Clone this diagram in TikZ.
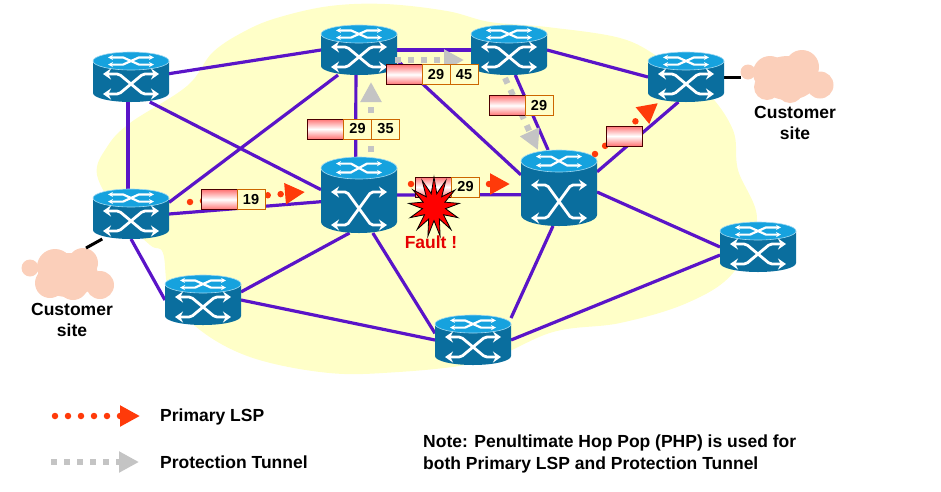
\documentclass[tikz,border=0pt]{standalone}
\usepackage{fontspec}
\setmainfont{Liberation Sans}
\usetikzlibrary{positioning,arrows.meta,shapes.geometric}
\pgfdeclarelayer{background}
\pgfsetlayers{background,main}

\definecolor{blobyellow}{HTML}{FFFFC8}
\definecolor{linkpurple}{HTML}{5A14C8}
\definecolor{routerside}{HTML}{0A6E9E}
\definecolor{routertop}{HTML}{16A2DE}
\definecolor{cloudpink}{HTML}{FBCFBA}
\definecolor{lspred}{HTML}{FF3A0A}
\definecolor{tunnelgrey}{HTML}{C4C4C4}

\tikzset{
  routerbody/.style={minimum width=76pt, inner sep=0pt, outer sep=0pt},
  routerarrow/.style={white, line width=2.8pt, rounded corners=2pt, {Stealth[length=8pt,width=11pt]}-{Stealth[length=8pt,width=11pt]}},
  toparrow/.style={white, line width=2.2pt, {Stealth[length=5pt,width=5pt]}-{Stealth[length=5pt,width=5pt]}},
  link/.style={linkpurple, line width=3.2pt},
  access/.style={black, line width=3pt},
  primary/.style={lspred, line width=6.5pt, line cap=round, dash pattern=on 0pt off 13pt, -{Triangle[length=20pt,width=20pt]}},
  tunnel/.style={tunnelgrey, line width=6pt, dash pattern=on 6pt off 7pt, -{Triangle[length=20pt,width=20pt]}},
  lspbar/.style={draw=black!70!red, line width=1pt, top color=red!55!white, bottom color=red!55!white, middle color=white, minimum width=36pt, minimum height=20pt, inner sep=0pt, outer sep=0pt},
  lspcell/.style={draw=orange!80!black, line width=1pt, fill=blobyellow, minimum width=28pt, minimum height=20pt, inner sep=0pt, outer sep=0pt, font=\fontsize{14.5}{16}\selectfont\bfseries},
  caption/.style={align=center, inner sep=0pt, font=\fontsize{17.5}{21.5}\selectfont\bfseries},
  legend/.style={anchor=west, align=left, inner sep=0pt, font=\fontsize{17.5}{22}\selectfont\bfseries}
}

% name, x, y, height
\newcommand{\router}[4]{
  \node[routerbody, minimum height=#4pt] (#1) at (#2,#3) {};
  \pgfmathsetmacro{\routerh}{#4/2}
  \pgfmathsetmacro{\routerry}{#4<60 ? 9 : 11}
  \pgfmathsetmacro{\routerlow}{\routerh-8}
  \pgfmathsetmacro{\routermid}{-\routerh+\routerry}
  \begin{scope}[shift={(#1.center)}]
    \fill[routerside] (-38,\routermid) -- (-38,\routerh-\routerry) arc[start angle=180, end angle=360, x radius=38pt, y radius=\routerry pt] -- (38,\routermid) -- cycle;
    \fill[routertop, draw=routertop!40!white, line width=0.6pt] (0,\routermid) ellipse[x radius=38pt, y radius=\routerry pt];
    \draw[routerarrow] (-28,-3) -- (-12,-3) -- (12,\routerlow) -- (28,\routerlow);
    \draw[routerarrow] (-28,\routerlow) -- (-12,\routerlow) -- (12,-3) -- (28,-3);
    \draw[toparrow] (-23,\routermid-0.4*\routerry) -- (-8,\routermid-0.4*\routerry) -- (8,\routermid+0.4*\routerry) -- (23,\routermid+0.4*\routerry);
    \draw[toparrow] (-23,\routermid+0.4*\routerry) -- (-8,\routermid+0.4*\routerry) -- (8,\routermid-0.4*\routerry) -- (23,\routermid-0.4*\routerry);
  \end{scope}
}

\begin{document}
\begin{tikzpicture}[x=1pt, y=-1pt]
  \useasboundingbox (0,0) rectangle (941,491);

  \router{r1}{131}{77}{50}
  \router{r2}{359}{50}{50}
  \router{r3}{509}{50}{50}
  \router{r4}{686}{77}{50}
  \router{r5}{131}{214}{50}
  \router{r6}{359}{195}{76}
  \router{r7}{559}{188}{76}
  \router{r8}{203}{300}{50}
  \router{r9}{758}{247}{50}
  \router{r10}{473}{340}{50}

  \begin{pgfonlayer}{background}
    \fill[blobyellow] plot[smooth cycle, tension=0.6] coordinates {
      (97,175) (107,147) (130,123) (187,86) (213,52) (247,30)
      (280,17) (330,6) (385,4) (447,11) (490,22) (547,27) (620,38) (660,58)
      (705,90) (733,130) (738,170) (757,220) (733,273) (687,303) (620,323) (553,332)
      (480,362) (383,373) (320,372) (250,357) (200,330) (170,295) (163,253)
      (150,245) (120,215)};

    \foreach \cx/\cy/\cr in {30/268/8.5, 55/267/18, 83/263/15, 100/285/14, 73/285/15, 50/283/15,
                             748/72/7.5, 770/73/17, 802/67/17, 820/85/13.5, 790/90/13, 767/87/13}
      \fill[cloudpink] (\cx,\cy) circle[radius=\cr pt];
    \fill[cloudpink] (68,275) ellipse[x radius=30pt, y radius=22pt];
    \fill[cloudpink] (788,78) ellipse[x radius=30pt, y radius=22pt];
    \coordinate (cloudL) at (86,248);
    \coordinate (cloudR) at (741,77);

    \draw[link] (r1.5) -- (r2.west);
    \draw[link] (r1.-97) -- (r5.97);
    \draw[link] (r1.-53) -- (r6.172);
    \draw[link] (r2.east) -- (r3.west);
    \draw[link] (r2.-97) -- (r6.95);
    \draw[link] (r2.-130) -- (r5.17);
    \draw[link] (r2.-15) -- (r7.161);
    \draw[link] (r3.east) -- (r4.west);
    \draw[link] (r3.-76) -- (r7.106);
    \draw[link] (r4.-107) -- (r7.23);
    \draw[link] (r5.east) -- (r6.190);
    \draw[link] (r5.south) -- (r8.west);
    \draw[link] (r6.east) -- (r7.190);
    \draw[link] (r6.-104) -- (r8.12);
    \draw[link] (r6.-70) -- (r10.170);
    \draw[link] (r7.-99) -- (r10.30);
    \draw[link] (r7.-6) -- (r9.west);
    \draw[link] (r8.east) -- (r10.west);
    \draw[link] (r9.192) -- (r10.east);
    \draw[access] (r5.-139) -- (cloudL);
    \draw[access] (r4.east) -- (cloudR);
  \end{pgfonlayer}

  % protection tunnel
  \coordinate (t1a) at (371,152);
  \coordinate (t1b) at (371,82);
  \coordinate (t2a) at (395,60);
  \coordinate (t2b) at (464,60);
  \coordinate (t3a) at (505,78);
  \coordinate (t3b) at (538,150);
  \draw[tunnel] (t1a) -- (t1b);
  \draw[tunnel] (t2a) -- (t2b);
  \draw[tunnel] (t3a) -- (t3b);

  % primary lsp
  \coordinate (p1a) at (190,202);
  \coordinate (p1b) at (305,192);
  \coordinate (p2a) at (411,184);
  \coordinate (p2b) at (510,184);
  \coordinate (p3a) at (595,154);
  \coordinate (p3b) at (658,103);
  \draw[primary] (p1a) -- (p1b);
  \draw[primary] (p2a) -- (p2b);
  \draw[primary] (p3a) -- (p3b);

  % labels
  \node[lspbar] (bar1) at (219,199.5) {};
  \node[lspcell, right=0pt of bar1] (cell1) {19};
  \node[lspbar] (bar2) at (325.5,129) {};
  \node[lspcell, right=0pt of bar2] (cell2) {29};
  \node[lspcell, right=0pt of cell2] (cell2b) {35};
  \node[lspbar] (bar3) at (404,74.5) {};
  \node[lspcell, right=0pt of bar3] (cell3) {29};
  \node[lspcell, right=0pt of cell3] (cell3b) {45};
  \node[lspbar] (bar4) at (507,105.5) {};
  \node[lspcell, right=0pt of bar4] (cell4) {29};
  \node[lspbar] (bar5) at (433.5,187) {};
  \node[lspcell, right=0pt of bar5] (cell5) {29};
  \node[lspbar] (bar6) at (624,136) {};

  \node[star, star points=13, star point ratio=2.2, draw=black, line width=0.8pt, fill=red, minimum size=60pt, inner sep=0pt, transform shape, xscale=0.85] (fault) at (434,207) {};
  \node[caption, text=red!90!black] (faultlabel) at (431,242) {Fault !};

  \node[caption] (siteL) at (72,320) {Customer\\site};
  \node[caption] (siteR) at (795,123) {Customer\\site};

  % legend
  \coordinate (leg1a) at (55,416);
  \coordinate (leg1b) at (140,416);
  \coordinate (leg2a) at (51,462);
  \coordinate (leg2b) at (139,462);
  \draw[primary] (leg1a) -- (leg1b);
  \draw[tunnel] (leg2a) -- (leg2b);
  \node[legend] (leg1) at (160,417) {Primary LSP};
  \node[legend] (leg2) at (160,462) {Protection Tunnel};
  \node[legend] (note) at (423,453.5) {Note: Penultimate Hop Pop (PHP) is used for\\both Primary LSP and Protection Tunnel};
\end{tikzpicture}
\end{document}
